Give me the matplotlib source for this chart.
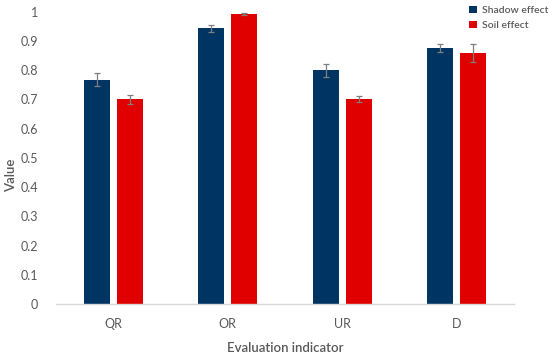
import matplotlib.pyplot as plt
import numpy as np

# data
categories = ["QR", "OR", "UR", "D"]
shadow_vals = [0.768, 0.943, 0.799, 0.875]
shadow_err = [0.023, 0.011, 0.022, 0.014]
soil_vals = [0.700, 0.992, 0.701, 0.860]
soil_err = [0.016, 0.002, 0.011, 0.031]

navy = "#003462"
red = "#e10000"
grey = "#595959"

plt.rcParams["font.family"] = ["Lato", "DejaVu Sans"]

fig = plt.figure(figsize=(5.5, 3.57), dpi=100)
ax = fig.add_axes([56 / 550, 53 / 357, 458 / 550, (304 - 11.7) / 357])

x = np.arange(len(categories))
w = 0.227
off = 0.142
err_kw = dict(ecolor="#7f7f7f", elinewidth=0.9, capsize=2.2, capthick=0.9)
ax.bar(x - off, shadow_vals, w, yerr=shadow_err, color=navy, label="Shadow effect", error_kw=err_kw)
ax.bar(x + off, soil_vals, w, yerr=soil_err, color=red, label="Soil effect", error_kw=err_kw)

ax.set_xlim(-0.5, len(categories) - 0.5)
ax.set_ylim(0, 1)
ax.set_yticks(np.arange(0, 1.01, 0.1))
ax.set_yticklabels(["0"] + ["%.1f" % v for v in np.arange(0.1, 0.95, 0.1)] + ["1"])
ax.set_xticks(x)
ax.set_xticklabels(categories)

for s in ["top", "right", "left"]:
    ax.spines[s].set_visible(False)
ax.spines["bottom"].set_color("#d9d9d9")
ax.spines["bottom"].set_linewidth(1.0)
ax.tick_params(axis="both", length=0, colors=grey, labelsize=9)
ax.tick_params(axis="y", pad=13)
ax.tick_params(axis="x", pad=10)

ax.set_xlabel("Evaluation indicator", fontsize=9.5, color=grey, fontweight="semibold", labelpad=9)
fig.text(11 / 550, 1 - 175 / 357, "Value", rotation=90, fontsize=9.5, color=grey,
         fontweight="semibold", ha="center", va="center")

leg = ax.legend(loc="upper left", bbox_to_anchor=(0.893, 1.035), frameon=False,
                fontsize=7.5, handlelength=0.75, handleheight=0.75, handletextpad=0.5,
                labelspacing=0.55, borderaxespad=0)
for t in leg.get_texts():
    t.set_color(grey)
    t.set_fontweight("semibold")

fig.savefig("out.png", dpi=100)
